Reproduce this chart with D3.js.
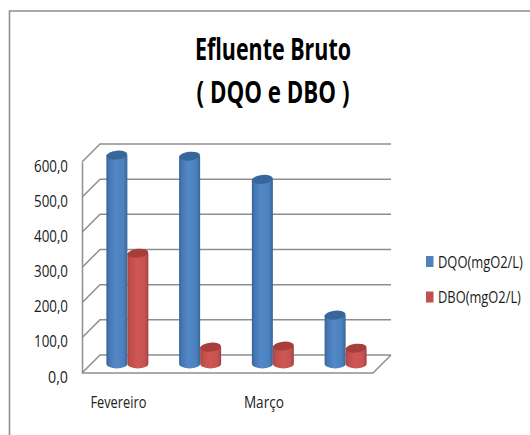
<!DOCTYPE html>
<html>
<head>
<meta charset="utf-8">
<style>
  html, body { margin: 0; padding: 0; background: #fff; }
  svg { display: block; }
  text { font-family: "Open Sans", "Noto Sans", sans-serif; fill: #1a1a1a; }
</style>
</head>
<body>
<svg id="chart" width="530" height="435"></svg>
<script src="https://cdn.jsdelivr.net/npm/d3@7/dist/d3.min.js"></script>
<script>
const categories = ["Fevereiro", "", "Março", ""];
const dqoValues = [594, 591, 525, 139];
const dboValues = [315, 48, 51, 45];
const seriesNames = ["DQO(mgO2/L)", "DBO(mgO2/L)"];
const yTicks = [0, 100, 200, 300, 400, 500, 600];
const titleLines = ["Efluente Bruto", "( DQO e DBO )"];

const svg = d3.select("#chart");
const defs = svg.append("defs");

// Front plane of the 3D box, and how far the back wall is shifted from it.
const depth = 18;
const x = d3.scaleBand().domain(d3.range(categories.length)).range([82, 373]);
const y = d3.scaleLinear().domain([0, 600]).range([373, 162]);

const gridColor = "#8e8e8e";

// Squeezes a text horizontally to the given width, keeping its anchor point fixed,
// which gives the regular face the narrow proportions the chart uses.
function condense(selection, width) {
  selection.each(function (d, i) {
    const node = d3.select(this);
    const target = typeof width === "function" ? width(d, i) : width;
    const s = target / this.getComputedTextLength();
    const ax = +node.attr("x") || 0;
    node.attr("transform", `translate(${ax},0) scale(${s},1) translate(${-ax},0)`);
  });
}

// Outer chart frame: only the top and left edges are visible.
svg.append("path")
  .attr("d", "M9.5,435V11H530")
  .attr("fill", "none")
  .attr("stroke", "#8f8f8f")
  .attr("stroke-width", 1.6);

// Title
svg.selectAll("text.title").data(titleLines).join("text")
  .attr("class", "title")
  .attr("x", 273)
  .attr("y", (d, i) => 60 + i * 43)
  .attr("text-anchor", "middle")
  .attr("font-size", 30)
  .attr("font-weight", 700)
  .style("fill", "#000")
  .text(d => d)
  .call(condense, (d, i) => (i === 0 ? 156 : 153));

// Wall gridlines with their diagonal run along the side wall.
const walls = svg.append("g").attr("fill", "none").attr("stroke", gridColor).attr("stroke-width", 1.5);
walls.selectAll("path.grid").data(yTicks).join("path")
  .attr("class", "grid")
  .attr("d", t => {
    const yy = y(t);
    const x0 = x.range()[0], x1 = x.range()[1];
    return `M${x0},${yy}L${x0 + depth},${yy - depth}H${x1 + depth}`;
  });
// Floor outline
walls.append("path")
  .attr("d", `M${x.range()[0]},${y(0)}H${x.range()[1]}L${x.range()[1] + depth},${y(0) - depth}`);

// Value axis along the front edge of the side wall.
const yAxis = d3.axisLeft(y)
  .tickValues(yTicks)
  .tickSize(0)
  .tickPadding(14)
  .tickFormat(d => d3.format(".1f")(d).replace(".", ","));
const yG = svg.append("g").attr("transform", `translate(${x.range()[0]},0)`).call(yAxis);
yG.select(".domain").attr("stroke", gridColor).attr("stroke-width", 1.5);
yG.selectAll("text")
  .attr("font-size", 16.5)
  .attr("dy", "0.55em")
  .call(condense, d => (d === 0 ? 20 : 34));

// Category axis; only every other slot carries a name.
const xAxis = d3.axisBottom(x)
  .tickSize(0)
  .tickPadding(23)
  .tickFormat(i => categories[i]);
const xG = svg.append("g").attr("transform", `translate(0,${y(0)})`).call(xAxis);
xG.select(".domain").remove();
xG.selectAll("text")
  .attr("font-size", 17)
  .style("fill", "#222")
  .filter(i => categories[i] !== "")
  .call(condense, (i) => (i === 0 ? 56 : 40));

// Shading that wraps across each cylinder body.
function bodyGradient(id, stops) {
  const g = defs.append("linearGradient").attr("id", id);
  stops.forEach(([o, c]) => g.append("stop").attr("offset", o).attr("stop-color", c));
}
bodyGradient("bodyDqo", [[0, "#34639a"], [0.14, "#4678b2"], [0.45, "#5388c8"], [0.82, "#4c80bd"], [1, "#35669c"]]);
bodyGradient("bodyDbo", [[0, "#ad4441"], [0.14, "#c04e4b"], [0.45, "#d05653"], [0.82, "#c65350"], [1, "#a54240"]]);

const series = [
  { name: seriesNames[0], values: dqoValues, body: "url(#bodyDqo)", top: "#37669b", swatch: "#4f81bd" },
  { name: seriesNames[1], values: dboValues, body: "url(#bodyDbo)", top: "#a63f3c", swatch: "#c0504d" }
];

const inner = d3.scaleBand().domain([0, 1]).range([-21, 21]);
const rx = inner.bandwidth() / 2;
const ry = 4.4;
const tilt = -6;

// Cylinders stand at mid depth of the box; each pair is painted left to right.
const bars = svg.append("g");
categories.forEach((c, i) => {
  series.forEach((s, k) => {
    const cx = x(i) + x.bandwidth() / 2 + depth / 2 + inner(k) + rx;
    const yBase = y(0) - depth / 2;
    const yTop = y(s.values[i]) - depth / 2;
    const g = bars.append("g");
    g.append("path")
      .attr("d", `M${cx - rx},${yTop}V${yBase}A${rx},${ry} 0 0 0 ${cx + rx},${yBase}V${yTop}Z`)
      .attr("fill", s.body);
    g.append("ellipse")
      .attr("cx", cx).attr("cy", yTop)
      .attr("rx", rx).attr("ry", ry)
      .attr("transform", `rotate(${tilt} ${cx} ${yTop})`)
      .attr("fill", s.top);
  });
});

// Legend
const legend = svg.append("g");
const legendRows = legend.selectAll("g").data(series).join("g")
  .attr("transform", (d, i) => `translate(426,${261.5 + i * 35.5})`);
legendRows.append("rect")
  .attr("x", 0).attr("y", -5.5).attr("width", 7.5).attr("height", 11)
  .attr("fill", d => d.swatch);
legendRows.append("text")
  .attr("x", 12).attr("y", 0).attr("dy", "0.36em")
  .attr("font-size", 17)
  .text(d => d.name)
  .call(condense, (d, i) => (i === 0 ? 85 : 83));
</script>
</body>
</html>
